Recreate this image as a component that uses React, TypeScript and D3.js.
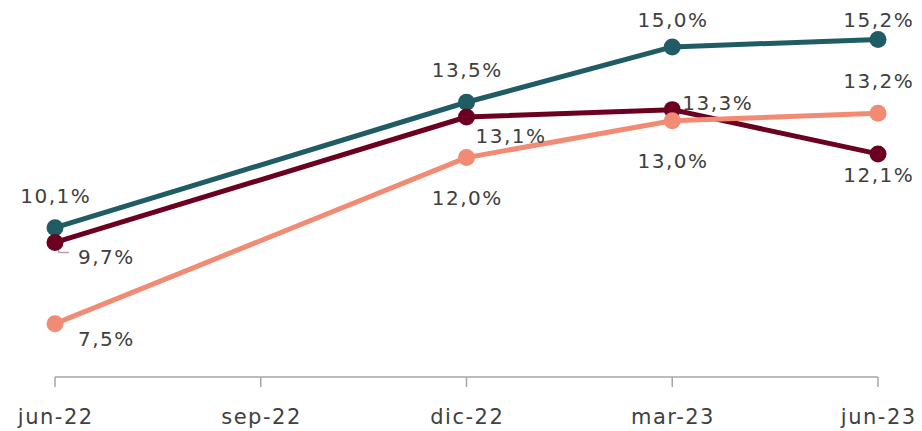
import { useEffect, useRef } from "react";
import * as d3 from "d3";

const categories = ["jun-22", "sep-22", "dic-22", "mar-23", "jun-23"];
const tealValues = [10.1, null, 13.5, 15.0, 15.2];
const wineValues = [9.7, null, 13.1, 13.3, 12.1];
const salmonValues = [7.5, null, 12.0, 13.0, 13.2];

// label placement per point
const tealPlace = ["above", null, "above", "above", "above"];
const winePlace = ["rightBelowFar", null, "rightBelow", "rightAbove", "belowNear"];
const salmonPlace = ["rightBelowFar", null, "below", "below", "above"];

const W = 922;
const H = 431;
const FONT = "'DejaVu Sans', sans-serif";

export default function App() {
  const ref = useRef<SVGSVGElement>(null);

  useEffect(() => {
    if (!ref.current) return;
    const svg = d3.select(ref.current);
    svg.selectAll("*").remove();

    const x = d3.scalePoint<string>().domain(categories).range([55, 878]);
    const y = d3.scaleLinear().domain([6, 16]).range([379, 10]);

    // axis
    const axisY = 377;
    svg.append("line")
      .attr("x1", x(categories[0])!)
      .attr("x2", x(categories[categories.length - 1])!)
      .attr("y1", axisY)
      .attr("y2", axisY)
      .attr("stroke", "#a6a6a6")
      .attr("stroke-width", 1.5);

    categories.forEach(c => {
      svg.append("line")
        .attr("x1", x(c)!)
        .attr("x2", x(c)!)
        .attr("y1", axisY)
        .attr("y2", axisY + 10)
        .attr("stroke", "#a6a6a6")
        .attr("stroke-width", 1.5);
      svg.append("text")
        .attr("x", x(c)! + 0.75)
        .attr("y", 424)
        .attr("text-anchor", "middle")
        .attr("font-family", FONT)
        .attr("font-size", 21)
        .attr("letter-spacing", 1.5)
        .attr("fill", "#404040")
        .text(c);
    });

    const series = [
      { values: wineValues, place: winePlace, color: "#6b0020" },
      { values: salmonValues, place: salmonPlace, color: "#f28b74" },
      { values: tealValues, place: tealPlace, color: "#1f5c63" },
    ];

    const fmt = (v: number) => v.toFixed(1).replace(".", ",") + "%";

    // leader line for 9,7%
    const lx = x("jun-22")!;
    const ly = y(9.7);
    svg.append("polyline")
      .attr("points", `${lx + 2},${ly + 5} ${lx + 4},${ly + 10} ${lx + 14},${ly + 10}`)
      .attr("fill", "none")
      .attr("stroke", "#a6a6a6")
      .attr("stroke-width", 1.5);

    const order = [2, 0, 1];
    order.forEach(i => {
      const s = series[i];
      const pts = categories
        .map((c, j) => ({ c, v: s.values[j], p: s.place[j] }))
        .filter(d => d.v !== null) as { c: string; v: number; p: string }[];

      const line = d3.line<{ c: string; v: number }>()
        .x(d => x(d.c)!)
        .y(d => y(d.v));

      svg.append("path")
        .datum(pts)
        .attr("d", line)
        .attr("fill", "none")
        .attr("stroke", s.color)
        .attr("stroke-width", 5)
        .attr("stroke-linejoin", "round");

      svg.selectAll(null)
        .data(pts)
        .enter()
        .append("circle")
        .attr("cx", d => x(d.c)!)
        .attr("cy", d => y(d.v))
        .attr("r", 8.5)
        .attr("fill", s.color);
    });

    series.forEach(s => {
      categories.forEach((c, j) => {
        const v = s.values[j];
        if (v === null) return;
        const px = x(c)!;
        const py = y(v);
        let tx = px, ty = py, anchor = "middle";
        const p = s.place[j];
        if (p === "above") { ty = Math.max(py - 25, 27); }
        else if (p === "below") { ty = py + 47; }
        else if (p === "belowNear") { ty = py + 28; }
        else if (p === "rightBelow") { tx = px + 9; ty = py + 26; anchor = "start"; }
        else if (p === "rightBelowFar") { tx = px + 23; ty = py + 22; anchor = "start"; }
        else if (p === "rightAbove") { tx = px + 10; ty = py; anchor = "start"; }
        svg.append("text")
          .attr("x", anchor === "middle" ? tx + 0.75 : tx)
          .attr("y", ty)
          .attr("text-anchor", anchor)
          .attr("font-family", FONT)
          .attr("font-size", 20)
          .attr("letter-spacing", 1.5)
          .attr("fill", "#404040")
          .text(fmt(v));
      });
    });
  }, []);

  return (
    <svg
      ref={ref}
      width={W}
      height={H}
      style={{ position: "absolute", left: 0, top: 0, display: "block", background: "#fff" }}
    />
  );
}
